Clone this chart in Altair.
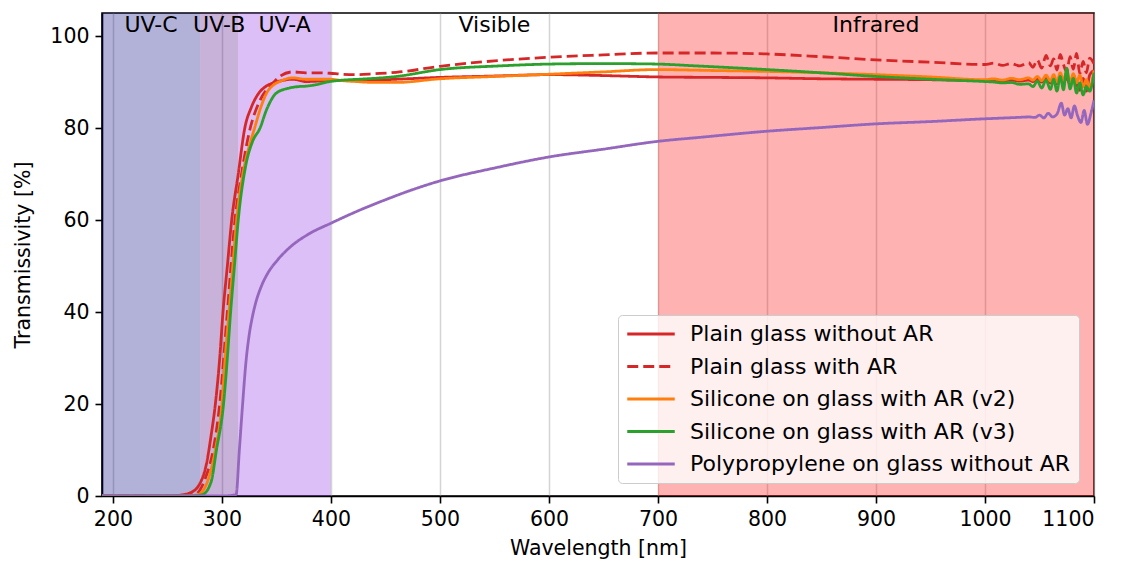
import altair as alt
import pandas as pd

# ---------------- data ----------------
series_names = [
    "Plain glass without AR",
    "Plain glass with AR",
    "Silicone on glass with AR (v2)",
    "Silicone on glass with AR (v3)",
    "Polypropylene on glass without AR",
]
series_colors = ["#d62728", "#d62728", "#ff7f0e", "#2ca02c", "#9467bd"]
series_dashes = [[1, 0], [11, 5], [1, 0], [1, 0], [1, 0]]

plain_wl = [190, 250, 262, 271, 280, 286, 290, 294, 298, 301, 305, 309, 315, 321, 327, 333,
            340, 347, 355, 365, 377, 390, 400, 427, 460, 500, 550, 601, 650, 699, 750, 800,
            850, 900, 950, 1000, 1008, 1016, 1024, 1032, 1040, 1044, 1048, 1052, 1056, 1060,
            1063, 1066, 1069, 1072, 1075, 1078, 1081, 1084, 1087, 1090, 1093, 1096, 1100]
plain_t = [0, 0, 0.2, 0.7, 2.8, 7.2, 13, 20, 30, 40, 50, 60, 70, 80, 84.5, 87.3,
           89.0, 89.8, 90.3, 90.6, 90.1, 90.2, 90.3, 90.3, 90.6, 91.0, 91.3, 91.6, 91.4, 91.1,
           91.0, 90.9, 90.7, 90.6, 90.5, 90.3, 90.4, 90.2, 90.4, 90.2, 90.4, 90.1, 90.6, 90.0,
           90.8, 89.8, 90.9, 89.6, 91.2, 89.8, 91.0, 89.4, 91.5, 89.6, 88.2, 90.8, 88.0, 91.5,
           92.5]

plain_ar_wl = [190, 255, 265, 275, 285, 292, 298, 305, 312, 318, 326, 333, 340, 344, 353, 365,
               377, 390, 399, 410, 424, 440, 460, 500, 550, 601, 650, 699, 750, 800, 850, 900,
               950, 1000, 1008, 1016, 1024, 1032, 1040, 1044, 1048, 1052, 1056, 1060, 1063,
               1066, 1069, 1072, 1075, 1078, 1081, 1084, 1087, 1090, 1093, 1096, 1100]
plain_ar_t = [0, 0, 0.1, 0.3, 4, 10, 20, 40, 60, 70, 80, 85, 88, 89, 91.2, 92.2,
              92.0, 92.0, 91.9, 91.7, 91.6, 91.8, 92.1, 93.4, 94.6, 95.4, 95.9, 96.3, 96.3,
              96.1, 95.5, 94.8, 94.3, 93.8, 94.1, 93.6, 94.0, 93.5, 94.2, 93.2, 94.8, 93.0,
              95.8, 93.5, 95.0, 92.6, 96.0, 93.8, 92.2, 95.5, 92.8, 96.2, 91.8, 94.5, 92.0,
              95.2, 94.0]

sil_v2_wl = [190, 265, 278, 288, 294, 300, 303, 306.5, 310, 313.5, 320, 325, 330, 335, 341,
             347, 353, 365, 377, 390, 399, 410, 423, 440, 460, 500, 550, 601, 650, 699, 750,
             800, 850, 900, 950, 1000, 1008, 1016, 1024, 1032, 1040, 1044, 1048, 1052, 1056,
             1060, 1063, 1066, 1069, 1072, 1075, 1078, 1081, 1084, 1087, 1090, 1093, 1096, 1100]
sil_v2_t = [0, 0, 0.3, 4, 10, 20, 30, 40, 50, 60, 71, 76, 80, 84, 87.6,
            89.3, 90.1, 90.9, 90.6, 90.6, 90.6, 90.3, 90.1, 89.9, 89.9, 90.7, 91.2, 91.7, 92.2,
            92.7, 92.5, 92.3, 92.0, 91.6, 91.1, 90.5, 90.7, 90.4, 90.8, 90.5, 90.9, 90.4, 91.2,
            90.3, 91.5, 90.2, 91.6, 90.0, 92.0, 90.4, 92.3, 90.0, 91.8, 89.8, 91.5, 89.0, 90.5,
            88.8, 92.5]

sil_v3_wl = [190, 270, 282, 290, 295, 301.5, 305, 308, 311.5, 315, 322, 328, 335, 341, 350,
             362, 370, 377.6, 386, 399, 410, 426, 460, 500, 555, 601, 650, 699, 735, 800, 850,
             900, 950, 1000, 1008, 1016, 1024, 1032, 1040, 1044, 1048, 1052, 1056, 1060, 1063,
             1066, 1069, 1072, 1075, 1078, 1081, 1084, 1087, 1090, 1093, 1096, 1100]
sil_v3_t = [0, 0, 0.3, 3, 10, 20, 30, 40, 50, 60, 72, 77, 80, 84, 87.6,
            88.7, 89.0, 89.1, 89.4, 90.1, 90.4, 90.6, 91.2, 92.7, 93.5, 93.9, 94.0, 93.9, 93.5,
            92.7, 92.0, 91.2, 90.6, 90.1, 90.0, 89.8, 89.9, 89.5, 89.6, 89.0, 90.2, 88.7, 90.4,
            88.4, 90.6, 88.0, 91.2, 88.3, 93.0, 88.5, 90.8, 87.6, 89.8, 87.2, 89.0, 88.0, 92.0]

pp_wl = [190, 300, 313, 316, 319, 322, 325, 328, 331, 336, 342, 351, 363, 380, 400, 425, 450,
         475, 500, 550, 600, 650, 700, 740, 800, 850, 900, 950, 1000, 1010, 1020, 1030, 1040,
         1046, 1050, 1054, 1058, 1062, 1066, 1070, 1073, 1076, 1079, 1082, 1085, 1088, 1091,
         1094, 1097, 1100]
pp_t = [0, 0, 0.3, 10, 20, 29, 35, 39, 42, 45.5, 48.4, 51.3, 54.2, 57.0, 59.3, 62.0, 64.4,
        66.6, 68.5, 71.3, 73.7, 75.4, 77.1, 78.0, 79.3, 80.1, 80.9, 81.4, 82.0, 82.1, 82.2,
        82.3, 82.4, 82.3, 82.8, 82.2, 83.2, 82.4, 83.0, 85.4, 82.8, 84.2, 82.2, 84.8, 82.6,
        81.2, 83.8, 80.8, 83.0, 86.0]

# spectral regions
region_labels = ["UV-C", "UV-B", "UV-A", "Visible", "Infrared"]
region_start = [190, 280, 315, 400, 700]
region_end = [280, 315, 400, 700, 1100]
span_names = ["UV-C", "UV-B", "UV-A", "Infrared"]
span_start = [190, 280, 315, 700]
span_end = [280, 315, 400, 1100]
span_fill = ["#000080", "#4b0082", "#8a2be2", "#ff0000"]

# ---------------- tables ----------------
rows = []
for name, wl, t in zip(series_names,
                       [plain_wl, plain_ar_wl, sil_v2_wl, sil_v3_wl, pp_wl],
                       [plain_t, plain_ar_t, sil_v2_t, sil_v3_t, pp_t]):
    for w, v in zip(wl, t):
        rows.append({"series": name, "wl": w, "t": v})
lines_df = pd.DataFrame(rows)

span_df = pd.DataFrame({"name": span_names, "start": span_start, "end": span_end, "fill": span_fill})
label_df = pd.DataFrame({"label": region_labels,
                         "mid": [(a + b) / 2 for a, b in zip(region_start, region_end)]})

FONT = "DejaVu Sans"
FS = 20.5
xscale = alt.Scale(domain=[190, 1100], nice=False, zero=False)
yscale = alt.Scale(domain=[0, 105], nice=False)

spans = alt.Chart(span_df).mark_rect(opacity=0.3).encode(
    x=alt.X("start:Q", scale=xscale),
    x2="end:Q",
    y=alt.datum(0, scale=yscale),
    y2=alt.datum(105),
    fill=alt.Fill("fill:N", scale=None),
)

labels = alt.Chart(label_df).mark_text(font=FONT, fontSize=22, baseline="middle",
                                         align="center", color="black").encode(
    x=alt.X("mid:Q", scale=xscale),
    y=alt.datum(102.4),
    text="label:N",
)

lines = alt.Chart(lines_df).mark_line(strokeWidth=2.8, clip=True, interpolate="monotone").encode(
    x=alt.X("wl:Q", scale=xscale,
            axis=alt.Axis(values=list(range(200, 1101, 100)), format="d",
                          title="Wavelength [nm]", titlePadding=9)),
    y=alt.Y("t:Q", scale=yscale,
            axis=alt.Axis(values=list(range(0, 101, 20)), format="d",
                          title="Transmissivity [%]", titlePadding=16)),
    color=alt.Color("series:N", scale=alt.Scale(domain=series_names, range=series_colors),
                    legend=alt.Legend(title=None)),
    strokeDash=alt.StrokeDash("series:N", scale=alt.Scale(domain=series_names, range=series_dashes),
                              legend=alt.Legend(title=None)),
)

chart = alt.layer(spans, lines, labels).properties(
    width=992, height=483,
    autosize=alt.AutoSizeParams(type="none"),
    padding={"left": 94, "top": 5, "right": 20, "bottom": 70},
).configure_view(
    stroke="black", strokeWidth=1.6
).configure_axis(
    labelFont=FONT, labelFontSize=FS, titleFont=FONT, titleFontSize=FS,
    titleFontWeight="normal", labelColor="black", titleColor="black",
    domainColor="black", domainWidth=1.6, tickColor="black", tickWidth=1.6,
    tickSize=7, labelPadding=6, gridColor="#b0b0b0", gridOpacity=0.55, gridWidth=1.5,
).configure_legend(
    orient="none", legendX=516, legendY=302,
    fillColor="rgba(255,255,255,0.8)", strokeColor="#cccccc", cornerRadius=4,
    padding=8, symbolType="M-2.5,0H2.5", symbolSize=361, symbolStrokeWidth=2.8,
    symbolFillColor="transparent", symbolOffset=14,
    labelFont=FONT, labelFontSize=22, labelColor="black", labelOffset=28,
    rowPadding=10.5, labelLimit=600,
)

chart.save("out.html", embed_options={"renderer": "svg", "actions": False})
